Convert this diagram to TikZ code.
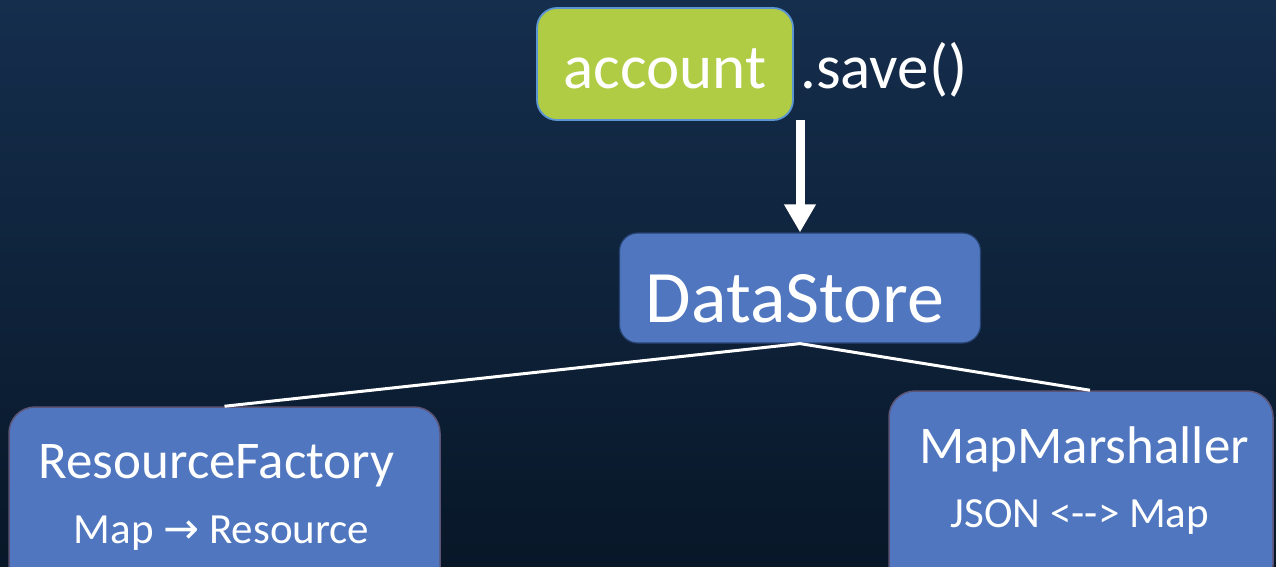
\documentclass[tikz,border=0pt]{standalone}
\usepackage{fontspec}
\setmainfont{Carlito}
\newfontfamily\symfont{DejaVu Sans}
\usetikzlibrary{arrows.meta}
\definecolor{bgtop}{RGB}{21,46,77}
\definecolor{bgbot}{RGB}{8,23,40}
\definecolor{limefill}{RGB}{176,204,68}
\definecolor{limeedge}{RGB}{91,150,210}
\definecolor{boxblue}{RGB}{79,118,191}
\definecolor{dsedge}{RGB}{38,66,112}
\definecolor{edgepurple}{RGB}{92,84,118}
\begin{document}
\begin{tikzpicture}[x=1pt,y=-1pt,
  acctbox/.style={draw=limeedge, fill=limefill, line width=1.8pt, rounded corners=20pt, inner sep=0pt},
  dsbox/.style={draw=dsedge, fill=boxblue, line width=1.2pt, rounded corners=18pt, inner sep=0pt},
  compbox/.style={draw=edgepurple, fill=boxblue, line width=1.5pt, rounded corners=26pt, inner sep=0pt},
  lbl/.style={text=white, inner sep=0pt, anchor=base},
  bigtxt/.style={font=\fontsize{74}{80}\selectfont},
  acctxt/.style={font=\fontsize{63}{70}\selectfont},
  nametxt/.style={font=\fontsize{53}{60}\selectfont},
  subtxt/.style={font=\fontsize{43}{48}\selectfont},
  callarrow/.style={draw=white, line width=9pt, -{Triangle[width=30pt,length=28pt]}},
  link/.style={draw=white, line width=3pt}
]
\useasboundingbox (0,0) rectangle (1276,567);
\shade[top color=bgtop, bottom color=bgbot] (0,0) rectangle (1276,567);
\clip (0,0) rectangle (1276,567);

% boxes
\node[acctbox, minimum width=256pt, minimum height=112pt] (acct) at (665,64) {};
\node[dsbox, minimum width=361pt, minimum height=110pt] (ds) at (800,288) {};
\node[compbox, minimum width=431pt, minimum height=190pt] (rf) at (224.5,502) {};
\node[compbox, minimum width=384pt, minimum height=200pt] (mm) at (1081,491) {};

% texts
\node[lbl, acctxt] (accttxt) at (665,89) {account};
\node[lbl, acctxt, anchor=base west] (savetxt) at (800,89) {.save()};
\node[lbl, bigtxt] (dstxt) at (795,322) {DataStore};
\node[lbl, nametxt] (rftxt) at (216.5,478) {ResourceFactory};
\node[lbl, subtxt] (rfsub) at (221.5,543) {Map {\symfont →} Resource};
\node[lbl, nametxt] (mmtxt) at (1084,463) {MapMarshaller};
\node[lbl, subtxt] (mmsub) at (1080,527) {JSON <-{}-> Map};

% connectors
\coordinate (callstart) at (800,120);
\draw[callarrow] (callstart) -- (ds.north);
\draw[link] (ds.south) -- (rf.north);
\draw[link] (ds.south) -- ([xshift=9pt]mm.north);
\end{tikzpicture}
\end{document}
